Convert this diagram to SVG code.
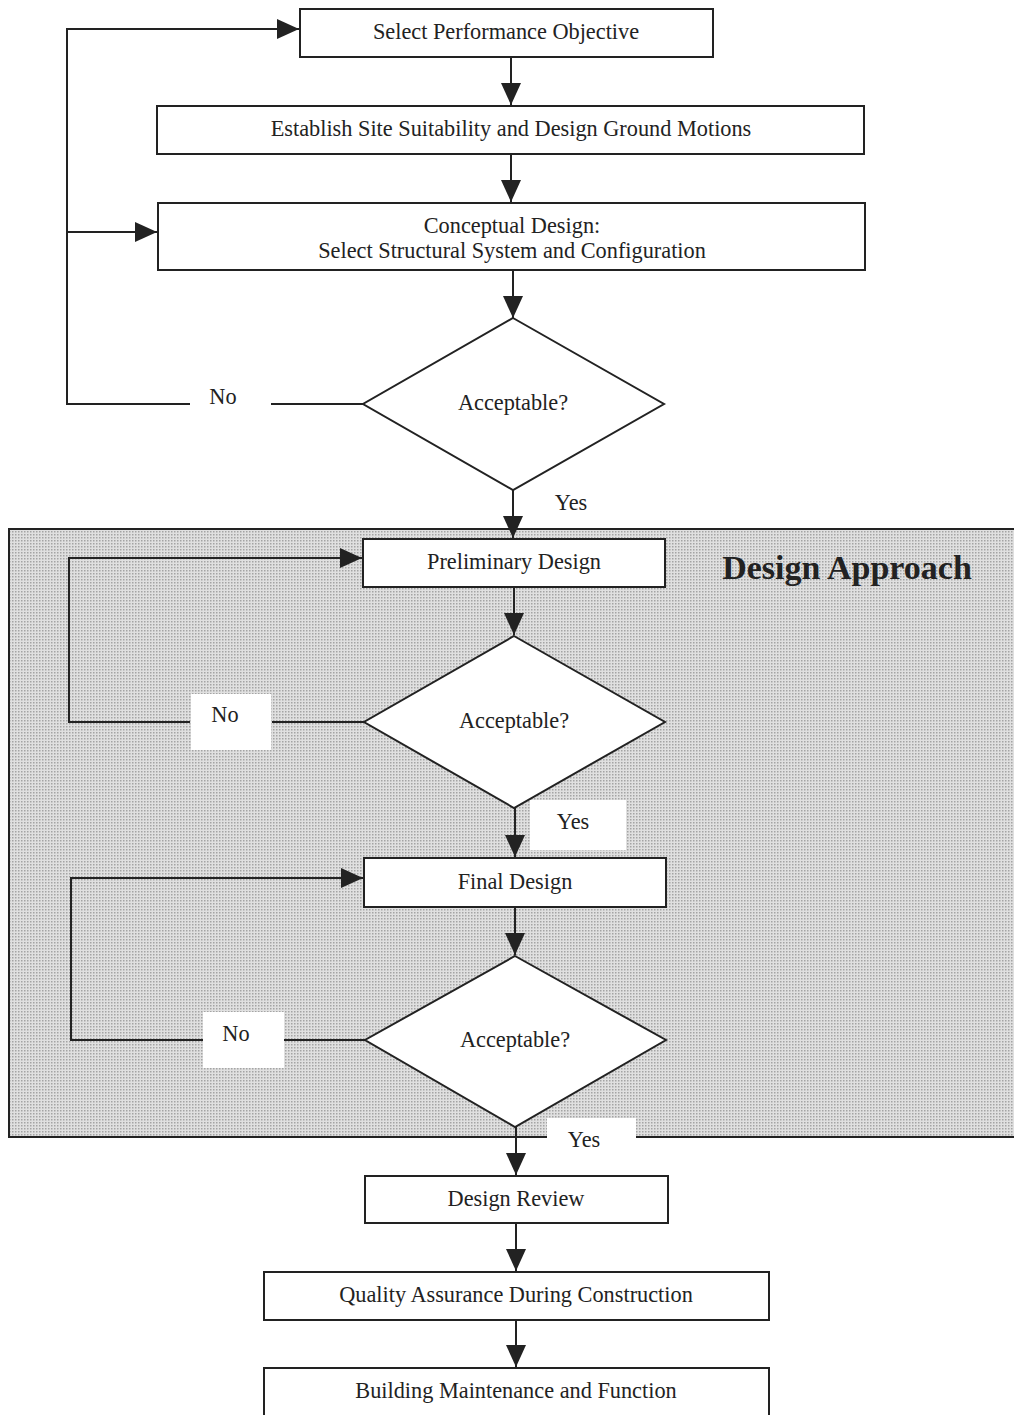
<svg xmlns="http://www.w3.org/2000/svg" width="1014" height="1415" viewBox="0 0 1014 1415">
<style>
.box{fill:#fff;stroke:#222;stroke-width:2}
.dia{fill:#fff;stroke:#222;stroke-width:2}
.t{font-family:"Liberation Serif","Times New Roman",serif;font-size:22.3px;fill:#222;text-anchor:middle}
.ln{fill:none;stroke:#222;stroke-width:2}
.lbl{fill:#fff;stroke:none}
</style>
<defs>
<pattern id="dots" width="3" height="3" patternUnits="userSpaceOnUse">
<rect width="3" height="3" fill="#e0e0e0"/>
<rect width="1.5" height="1.5" fill="#a4a4a4"/>
</pattern>
<marker id="ah" markerWidth="22" markerHeight="22" viewBox="0 0 22 22" refX="22" refY="11" orient="auto" markerUnits="userSpaceOnUse">
<path d="M0,1 L22,11 L0,21 Z" fill="#222"/>
</marker>
</defs>
<rect width="1014" height="1415" fill="#fff"/>
<g id="region">
<rect x="9" y="529" width="1010" height="608" fill="url(#dots)" stroke="#222" stroke-width="2"/>
<text x="847" y="579" style="font-family:'Liberation Serif','Times New Roman',serif;font-size:34px;font-weight:bold;fill:#222;text-anchor:middle">Design Approach</text>
</g>
<g id="labels-bg">
<rect class="lbl" x="191" y="694" width="80" height="56"/>
<rect class="lbl" x="530" y="800" width="96" height="50"/>
<rect class="lbl" x="203" y="1012" width="81" height="56"/>
<rect class="lbl" x="547" y="1118" width="89" height="30"/>
</g>
<g id="connectors">
<line class="ln" x1="511" y1="57" x2="511" y2="105" marker-end="url(#ah)"/>
<line class="ln" x1="511" y1="154" x2="511" y2="202" marker-end="url(#ah)"/>
<line class="ln" x1="513" y1="270" x2="513" y2="318" marker-end="url(#ah)"/>
<polyline class="ln" points="363,404 271,404"/>
<polyline class="ln" points="190,404 67,404 67,29 299,29" marker-end="url(#ah)"/>
<polyline class="ln" points="67,232 157,232" marker-end="url(#ah)"/>
<line class="ln" x1="513" y1="490" x2="513" y2="538" marker-end="url(#ah)"/>
<line class="ln" x1="514" y1="587" x2="514" y2="635" marker-end="url(#ah)"/>
<polyline class="ln" points="364,722 272,722"/>
<polyline class="ln" points="190,722 69,722 69,558 362,558" marker-end="url(#ah)"/>
<line class="ln" x1="515" y1="808" x2="515" y2="857" marker-end="url(#ah)"/>
<line class="ln" x1="515" y1="907" x2="515" y2="955" marker-end="url(#ah)"/>
<polyline class="ln" points="365,1040 284,1040"/>
<polyline class="ln" points="203,1040 71,1040 71,878 363,878" marker-end="url(#ah)"/>
<line class="ln" x1="516" y1="1127" x2="516" y2="1175" marker-end="url(#ah)"/>
<line class="ln" x1="516" y1="1223" x2="516" y2="1271" marker-end="url(#ah)"/>
<line class="ln" x1="516" y1="1320" x2="516" y2="1367" marker-end="url(#ah)"/>
<text class="t" x="223" y="404">No</text>
<text class="t" x="571" y="510">Yes</text>
<text class="t" x="225" y="722">No</text>
<text class="t" x="573" y="829">Yes</text>
<text class="t" x="236" y="1041">No</text>
<text class="t" x="584" y="1147">Yes</text>
</g>
<g id="n1"><rect class="box" x="300" y="9" width="413" height="48"/><text class="t" x="506" y="39">Select Performance Objective</text></g>
<g id="n2"><rect class="box" x="157" y="106" width="707" height="48"/><text class="t" x="511" y="136">Establish Site Suitability and Design Ground Motions</text></g>
<g id="n3"><rect class="box" x="158" y="203" width="707" height="67"/><text class="t" x="512" y="233">Conceptual Design:</text><text class="t" x="512" y="258">Select Structural System and Configuration</text></g>
<g id="d1"><polygon class="dia" points="513,318 664,404 513,490 363,404"/><text class="t" x="513" y="410">Acceptable?</text></g>
<g id="n4"><rect class="box" x="363" y="539" width="302" height="48"/><text class="t" x="514" y="569">Preliminary Design</text></g>
<g id="d2"><polygon class="dia" points="514,636 665,722 514,808 364,722"/><text class="t" x="514" y="728">Acceptable?</text></g>
<g id="n5"><rect class="box" x="364" y="858" width="302" height="49"/><text class="t" x="515" y="889">Final Design</text></g>
<g id="d3"><polygon class="dia" points="515,956 666,1040 515,1127 365,1040"/><text class="t" x="515" y="1047">Acceptable?</text></g>
<g id="n6"><rect class="box" x="365" y="1176" width="303" height="47"/><text class="t" x="516" y="1206">Design Review</text></g>
<g id="n7"><rect class="box" x="264" y="1272" width="505" height="48"/><text class="t" x="516" y="1302">Quality Assurance During Construction</text></g>
<g id="n8"><rect class="box" x="264" y="1368" width="505" height="52"/><text class="t" x="516" y="1398">Building Maintenance and Function</text></g>
</svg>
